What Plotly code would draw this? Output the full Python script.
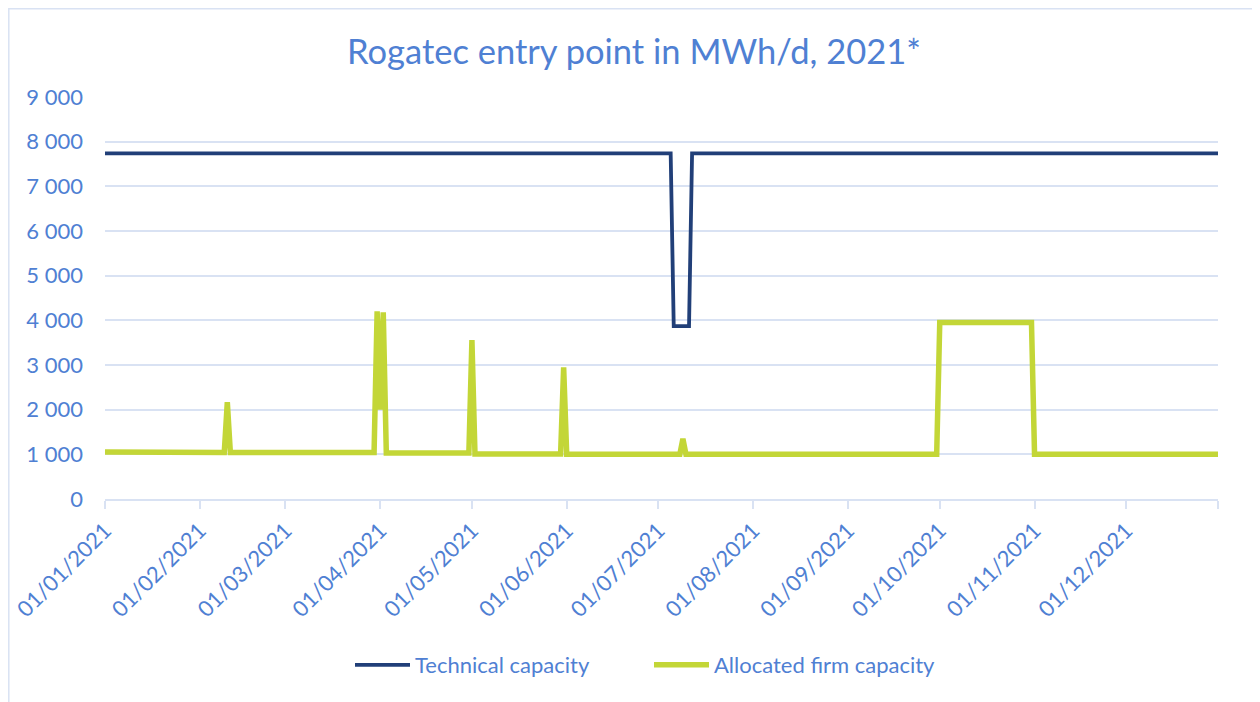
import plotly.graph_objects as go

# Technical capacity (MWh/d) - vertices of the daily series
tech_dates = ["2021-01-01", "2021-07-05", "2021-07-06", "2021-07-11", "2021-07-12", "2021-12-31"]
tech_values = [7740, 7740, 3870, 3870, 7740, 7740]

# Allocated firm capacity (MWh/d) - vertices of the daily series
alloc_dates = ["2021-01-01", "2021-01-31", "2021-02-01", "2021-02-09", "2021-02-10", "2021-02-11",
               "2021-03-30", "2021-03-31", "2021-04-01", "2021-04-02", "2021-04-03",
               "2021-04-30", "2021-05-01", "2021-05-02", "2021-05-30", "2021-05-31", "2021-06-01",
               "2021-07-08", "2021-07-09", "2021-07-10", "2021-09-30", "2021-10-01",
               "2021-10-31", "2021-11-01", "2021-12-31"]
alloc_values = [1050, 1050, 1040, 1040, 2170, 1040,
                1040, 4200, 2000, 4180, 1030,
                1030, 3560, 1010, 1010, 2950, 1000,
                1000, 1350, 1000, 1000, 3950,
                3950, 1000, 1000]

x_tickvals = ["2021-01-01", "2021-02-01", "2021-03-01", "2021-04-01", "2021-05-01", "2021-06-01",
              "2021-07-01", "2021-08-01", "2021-09-01", "2021-10-01", "2021-11-01", "2021-12-01",
              "2021-12-31"]
x_ticktext = ["01/01/2021", "01/02/2021", "01/03/2021", "01/04/2021", "01/05/2021", "01/06/2021",
              "01/07/2021", "01/08/2021", "01/09/2021", "01/10/2021", "01/11/2021", "01/12/2021", ""]
y_tickvals = [0, 1000, 2000, 3000, 4000, 5000, 6000, 7000, 8000, 9000]
y_ticktext = ["0", "1 000", "2 000", "3 000", "4 000", "5 000", "6 000", "7 000", "8 000", "9 000"]

TEXT = "#4f80d3"
GRID = "#d9e2f3"
FONT = "Lato"

# the page body adds an 8px offset; figure sized to fill the rest of the window
W, H = 1252, 694
L, R, T, B = 97, 42, 89, 203
PW, PH = W - L - R, H - T - B

fig = go.Figure()
fig.add_trace(go.Scatter(x=tech_dates, y=tech_values, mode="lines", name="Technical capacity",
                         line=dict(color="#213f78", width=3.8)))
fig.add_trace(go.Scatter(x=alloc_dates, y=alloc_values, mode="lines", name="Allocated firm capacity",
                         line=dict(color="#c3d637", width=5.5)))

fig.update_layout(
    width=W, height=H,
    margin=dict(l=L, r=R, t=T, b=B, autoexpand=False),
    paper_bgcolor="white", plot_bgcolor="white",
    font=dict(family=FONT, color=TEXT, size=22),
    title=dict(text="Rogatec entry point in MWh/d, 2021*", x=626 / W, xanchor="center",
               y=1 - 44 / H, yanchor="middle", font=dict(family=FONT, size=34.5, color=TEXT)),
    showlegend=True,
    legend=dict(orientation="h", x=(342 - L) / PW, xanchor="left", y=(T + PH - 657) / PH,
                yanchor="middle", font=dict(family=FONT, size=22, color=TEXT),
                traceorder="normal", itemwidth=55, entrywidth=229, entrywidthmode="pixels",
                bgcolor="rgba(0,0,0,0)"),
    xaxis=dict(type="date", range=["2021-01-01", "2021-12-31"], tickmode="array",
               tickvals=x_tickvals, ticktext=x_ticktext, tickangle=-45, automargin=False,
               showgrid=False, zeroline=False, showline=True, linecolor=GRID, linewidth=2,
               ticks="outside", ticklen=8, tickcolor=GRID, tickwidth=2,
               tickfont=dict(family=FONT, size=22, color=TEXT)),
    yaxis=dict(range=[0, 9000], tickmode="array", tickvals=y_tickvals, ticktext=y_ticktext,
               automargin=False,
               showgrid=True, gridcolor=GRID, gridwidth=2, zeroline=False, showline=False,
               ticks="", ticklabelstandoff=21,
               tickfont=dict(family=FONT, size=22, color=TEXT)),
)

fig.add_shape(type="rect", xref="paper", yref="paper",
              x0=(0.8 - L) / PW, x1=(1249 - L) / PW,
              y0=(T + PH - 705) / PH, y1=(T + PH - 0.8) / PH,
              line=dict(color=GRID, width=1.5), fillcolor="rgba(0,0,0,0)", layer="below")

fig.write_html("out.html")
